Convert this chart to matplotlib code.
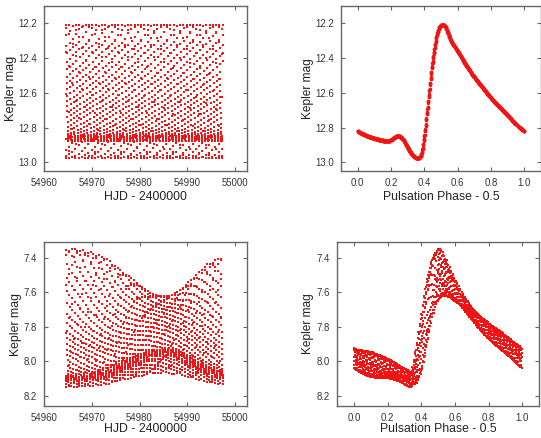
import numpy as np
import matplotlib
matplotlib.use("Agg")
import matplotlib.pyplot as plt

plt.rcParams['font.family'] = ['Liberation Sans', 'DejaVu Sans']

# Kepler long-cadence sampling (Q1)
T_START = 54964.51
T_END = 54997.48
CADENCE = 0.0204338

# Non-modulated RRab star: pulsation period and light-curve shape
P_TOP = 0.6820
T0_TOP = 54964.30
top_phase_knots = [0.00, 0.05, 0.10, 0.15, 0.18, 0.20, 0.22, 0.245, 0.27, 0.30,
                   0.33, 0.36, 0.38, 0.40, 0.42, 0.44, 0.46, 0.48, 0.50, 0.52,
                   0.54, 0.56, 0.60, 0.65, 0.70, 0.75, 0.80, 0.85, 0.90, 0.95]
top_mag_knots = [12.82, 12.845, 12.862, 12.874, 12.877, 12.872, 12.857, 12.848, 12.865, 12.915,
                 12.958, 12.978, 12.960, 12.850, 12.680, 12.500, 12.350, 12.250, 12.210, 12.212,
                 12.250, 12.300, 12.360, 12.440, 12.510, 12.570, 12.630, 12.680, 12.730, 12.780]

# Blazhko-modulated star (RR Lyr): light-curve shape at large and small amplitude
P_BOT = 0.566788
T0_BOT = 54964.40
large_phase_knots = [0.00, 0.05, 0.10, 0.15, 0.20, 0.25, 0.30, 0.34, 0.37, 0.40,
                     0.43, 0.46, 0.49, 0.51, 0.53, 0.56, 0.60, 0.65, 0.70, 0.80, 0.90, 0.95]
large_mag_knots = [8.04, 8.07, 8.09, 8.10, 8.10, 8.11, 8.13, 8.15, 8.10, 7.92,
                   7.68, 7.48, 7.37, 7.35, 7.37, 7.45, 7.54, 7.64, 7.73, 7.86, 7.95, 7.99]
small_phase_knots = [0.00, 0.05, 0.10, 0.15, 0.20, 0.25, 0.30, 0.33, 0.36, 0.40,
                     0.44, 0.48, 0.52, 0.56, 0.60, 0.70, 0.80, 0.90, 0.95]
small_mag_knots = [7.93, 7.94, 7.95, 7.97, 7.99, 8.02, 8.05, 8.07, 8.03, 7.90,
                   7.76, 7.66, 7.62, 7.63, 7.66, 7.72, 7.79, 7.86, 7.90]

# Brightness at pulsation maximum and phase shift through the Blazhko cycle
env_hjd = [54964.5, 54967, 54970, 54973, 54976, 54979, 54982, 54985, 54988, 54991, 54994, 54997.5]
env_max_mag = [7.35, 7.35, 7.37, 7.40, 7.47, 7.53, 7.60, 7.63, 7.60, 7.52, 7.44, 7.39]
env_dphase = [0.00, -0.005, -0.015, -0.025, -0.03, -0.02, -0.005, 0.01, 0.025, 0.035, 0.03, 0.02]

# Axis ticks
hjd_ticks = [54960, 54970, 54980, 54990, 55000]
phase_ticks = [0.0, 0.2, 0.4, 0.6, 0.8, 1.0]
top_mag_ticks = [12.2, 12.4, 12.6, 12.8, 13.0]
bot_mag_ticks = [7.4, 7.6, 7.8, 8.0, 8.2]


def periodic_pchip(xk, yk, x):
    """Shape-preserving periodic cubic through (xk, yk) with period 1."""
    xk = np.asarray(xk, float)
    yk = np.asarray(yk, float)
    n = len(xk)
    xe = np.concatenate([[xk[-1] - 1.0], xk, [xk[0] + 1.0]])
    ye = np.concatenate([[yk[-1]], yk, [yk[0]]])
    h = np.diff(xe)
    d = np.diff(ye) / h
    m = np.zeros(n + 1)
    for i in range(n + 1):
        dl = d[i]
        dr = d[i + 1] if i + 1 < len(d) else d[1]
        hl = h[i]
        hr = h[i + 1] if i + 1 < len(h) else h[1]
        if dl * dr <= 0:
            m[i] = 0.0
        else:
            w1 = 2 * hr + hl
            w2 = hr + 2 * hl
            m[i] = (w1 + w2) / (w1 / dl + w2 / dr)
    kx = np.concatenate([xk, [xk[0] + 1.0]])
    ky = np.concatenate([yk, [yk[0]]])
    xx = (np.asarray(x) - xk[0]) % 1.0 + xk[0]
    idx = np.clip(np.searchsorted(kx, xx, side='right') - 1, 0, n - 1)
    x0 = kx[idx]
    hh = kx[idx + 1] - x0
    t = (xx - x0) / hh
    h00 = 2 * t**3 - 3 * t**2 + 1
    h10 = t**3 - 2 * t**2 + t
    h01 = -2 * t**3 + 3 * t**2
    h11 = t**3 - t**2
    return h00 * ky[idx] + h10 * hh * m[idx] + h01 * ky[idx + 1] + h11 * hh * m[idx + 1]


hjd = np.arange(T_START, T_END, CADENCE)

# Top star
phase_top = ((hjd - T0_TOP) / P_TOP) % 1.0
mag_top = periodic_pchip(top_phase_knots, top_mag_knots, phase_top)

# Bottom star
phase_bot = ((hjd - T0_BOT) / P_BOT) % 1.0
max_now = np.interp(hjd, env_hjd, env_max_mag)
shift = np.interp(hjd, env_hjd, env_dphase)
w = np.clip((max_now - min(large_mag_knots)) / (min(small_mag_knots) - min(large_mag_knots)), 0, 1)
local_phase = phase_bot - shift
mag_bot = (1 - w) * periodic_pchip(large_phase_knots, large_mag_knots, local_phase) \
    + w * periodic_pchip(small_phase_knots, small_mag_knots, local_phase)

RED = '#f01414'
SPINE = '#666666'
TXT = '#333333'
LAB = '#222222'

W, H = 541, 438
fig = plt.figure(figsize=(W / 100, H / 100), dpi=100)


def add_ax(l, r, t, b):
    return fig.add_axes([l / W, 1 - b / H, (r - l) / W, (b - t) / H])


ax1 = add_ax(44, 247, 6, 171)
ax2 = add_ax(341, 541, 6, 171)
ax3 = add_ax(44, 247, 242, 406)
ax4 = add_ax(337, 539, 242, 406)

ax1.scatter(hjd, mag_top, s=2.6, marker='s', color=RED, linewidths=0)
ax2.scatter(phase_top, mag_top, s=6, marker='o', color=RED, linewidths=0)
ax3.scatter(hjd, mag_bot, s=3.2, marker='s', color=RED, linewidths=0)
ax4.scatter(phase_bot, mag_bot, s=3.2, marker='s', color=RED, linewidths=0)

for ax in (ax1, ax3):
    ax.set_xlim(54960, 55002.5)
    ax.set_xticks(hjd_ticks)
    ax.set_xticklabels([str(v) for v in hjd_ticks])
for ax in (ax2, ax4):
    ax.set_xlim(-0.1, 1.1)
    ax.set_xticks(phase_ticks)
    ax.set_xticklabels([f"{v:.1f}" for v in phase_ticks])
for ax in (ax1, ax2):
    ax.set_ylim(13.05, 12.10)
    ax.set_yticks(top_mag_ticks)
    ax.set_yticklabels([f"{v:.1f}" for v in top_mag_ticks])
for ax in (ax3, ax4):
    ax.set_ylim(8.26, 7.31)
    ax.set_yticks(bot_mag_ticks)
    ax.set_yticklabels([f"{v:.1f}" for v in bot_mag_ticks])

for ax in (ax1, ax2, ax3, ax4):
    for sp in ax.spines.values():
        sp.set_color(SPINE)
        sp.set_linewidth(1.0)
    ax.tick_params(direction='in', length=3, width=0.8, color=SPINE,
                   top=True, right=True, labelsize=6.9, labelcolor=TXT, pad=5)

ax1.set_xlabel('HJD - 2400000', fontsize=8.9, color=LAB)
ax3.set_xlabel('HJD - 2400000', fontsize=8.9, color=LAB)
ax2.set_xlabel('Pulsation Phase - 0.5', fontsize=8.8, color=LAB)
ax4.set_xlabel('Pulsation Phase - 0.5', fontsize=8.8, color=LAB)
ax1.set_ylabel('Kepler mag', fontsize=9.2, color=LAB)
ax3.set_ylabel('Kepler mag', fontsize=8.8, color=LAB)
ax2.set_ylabel('Kepler mag', fontsize=8.6, color=LAB)
ax4.set_ylabel('Kepler mag', fontsize=8.6, color=LAB)

ax1.yaxis.set_label_coords(-0.135, 0.5)
ax3.yaxis.set_label_coords(-0.11, 0.5)
ax2.yaxis.set_label_coords(-0.135, 0.5)
ax4.yaxis.set_label_coords(-0.115, 0.5)
ax1.xaxis.set_label_coords(0.5, -0.12)
ax2.xaxis.set_label_coords(0.5, -0.12)
ax3.xaxis.set_label_coords(0.5, -0.105)
ax4.xaxis.set_label_coords(0.5, -0.105)

fig.savefig('out.png', dpi=100)
